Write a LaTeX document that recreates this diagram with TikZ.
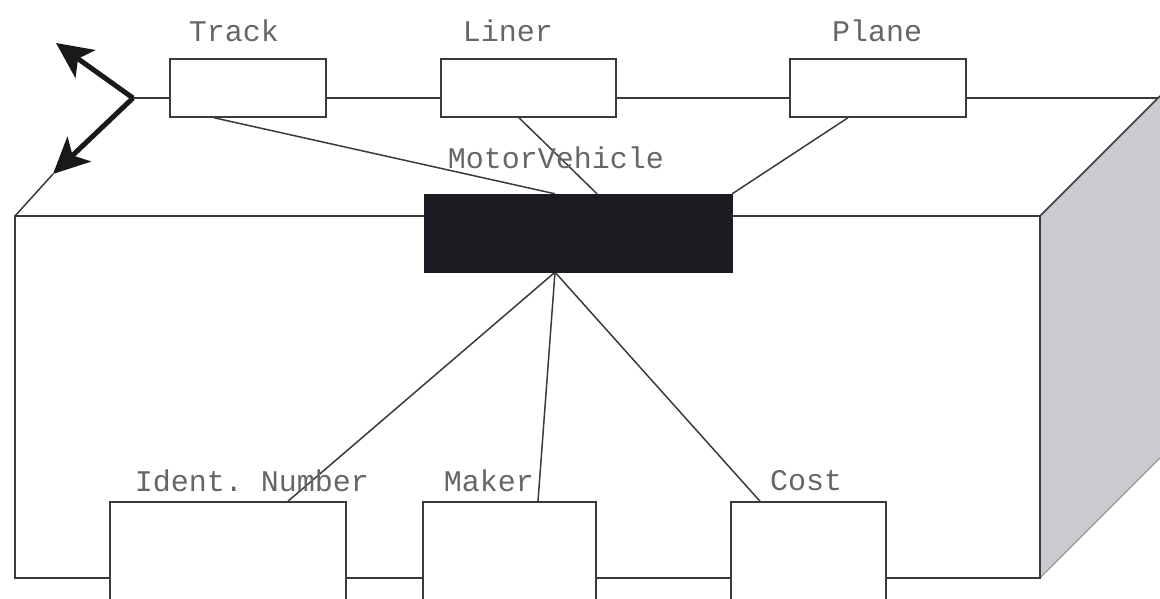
\documentclass[tikz,border=0pt]{standalone}
\usepackage{fontspec}
\setmonofont{Liberation Mono}
\usetikzlibrary{arrows.meta,calc}
\definecolor{linec}{HTML}{3A3A3A}
\definecolor{textc}{HTML}{666666}
\definecolor{sidec}{HTML}{CACACF}
\definecolor{darkbox}{HTML}{1C1B22}
\begin{document}
\begin{tikzpicture}[x=1pt,y=-1pt,
  edge/.style={draw=linec, line width=1.5pt},
  wbox/.style={draw=linec, line width=1.5pt, fill=white, rectangle, inner sep=0pt},
  lbl/.style={font=\fontsize{30}{30}\selectfont\ttfamily, text=textc, inner sep=0pt},
  bigarrow/.style={draw=black!90, line width=5pt, -{Stealth[length=36pt,width=34pt,inset=9pt]}}
]
\useasboundingbox (0,0) rectangle (1160,598);
\clip (0,0) rectangle (1160,598);
% right (shaded) face
\fill[sidec] (1040,216) -- (1160,96) -- (1160,458) -- (1040,578) -- cycle;
\draw[edge] (1040,216) -- (1160,96);
\draw[draw=linec!60, line width=0.8pt] (1040,578) -- (1160,458);
% front face
\draw[edge] (15,216) rectangle (1040,578);
% top face edges
\coordinate (v) at (133,98);
\coordinate (up) at (56,43);
\coordinate (dn) at (53,174);
\coordinate (fl) at (15,216);
\coordinate (br) at (1158,98);
\draw[edge] (fl) -- (dn);
\draw[edge] (v) -- (br);
% top boxes
\node[wbox, minimum width=156pt, minimum height=58pt] (track) at (248,88) {};
\node[wbox, minimum width=175pt, minimum height=58pt] (liner) at (528.5,88) {};
\node[wbox, minimum width=176pt, minimum height=58pt] (plane) at (878,88) {};
% bottom boxes
\node[wbox, minimum width=236pt, minimum height=118pt] (ident) at (228,561) {};
\node[wbox, minimum width=173pt, minimum height=118pt] (maker) at (509.5,561) {};
\node[wbox, minimum width=155pt, minimum height=118pt] (cost) at (808.5,561) {};
% central box anchors
\path (578,233) node[minimum width=308pt, minimum height=78pt, inner sep=0pt] (mv) {};
% connectors
\draw[edge] ([xshift=-34pt]track.south) -- ([xshift=-23pt]mv.north);
\draw[edge] ([xshift=-9.5pt]liner.south) -- ([xshift=19pt]mv.north);
\draw[edge] ([xshift=-30pt]plane.south) -- (mv.north east);
\draw[edge] ([xshift=-23pt]mv.south) -- ([xshift=60pt]ident.north);
\draw[edge] ([xshift=-23pt]mv.south) -- ([xshift=28.5pt]maker.north);
\draw[edge] ([xshift=-23pt]mv.south) -- ([xshift=-48.5pt]cost.north);
% MotorVehicle box
\node[draw=darkbox, fill=darkbox, minimum width=308pt, minimum height=78pt, inner sep=0pt] (mvbox) at (mv) {};
% axis arrows
\draw[bigarrow] (v) -- (up);
\draw[bigarrow] (v) -- (dn);
% labels
\node[lbl] (ltrack) at (234,31) {Track};
\node[lbl] (lliner) at (508,31) {Liner};
\node[lbl] (lplane) at (877,31) {Plane};
\node[lbl] (lmv) at (556,158) {MotorVehicle};
\node[lbl] (lident) at (252,481) {Ident. Number};
\node[lbl] (lmaker) at (489,481) {Maker};
\node[lbl] (lcost) at (806,481) {Cost};
\end{tikzpicture}
\end{document}
